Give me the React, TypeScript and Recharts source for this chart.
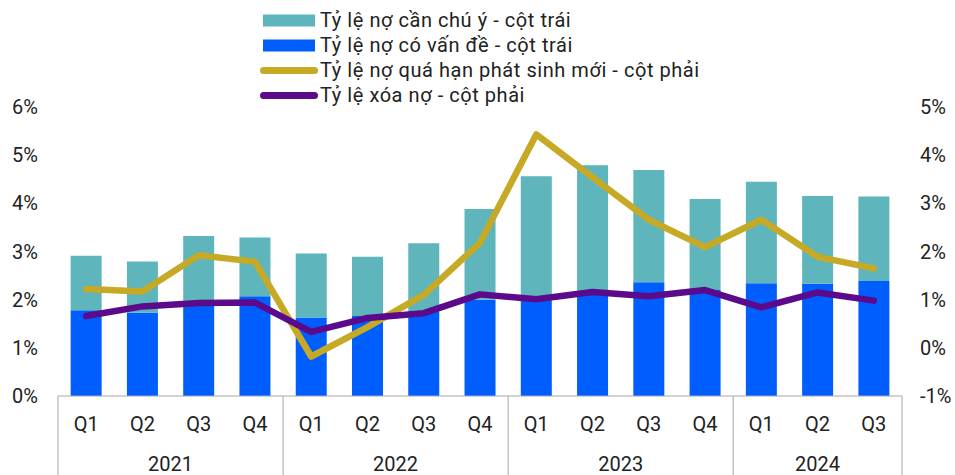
import React from 'react';
import { ComposedChart, Bar, Line, XAxis, YAxis, Legend } from 'recharts';

const quarters = ['Q1', 'Q2', 'Q3', 'Q4', 'Q1', 'Q2', 'Q3', 'Q4', 'Q1', 'Q2', 'Q3', 'Q4', 'Q1', 'Q2', 'Q3'];
const years = ['2021', '2021', '2021', '2021', '2022', '2022', '2022', '2022', '2023', '2023', '2023', '2023', '2024', '2024', '2024'];
// Left axis (%)
const problemDebt = [1.78, 1.73, 1.98, 2.07, 1.63, 1.66, 1.76, 2.0, 2.06, 2.13, 2.36, 2.2, 2.34, 2.33, 2.39];
const attentionDebt = [1.13, 1.06, 1.34, 1.22, 1.33, 1.23, 1.41, 1.88, 2.5, 2.66, 2.33, 1.89, 2.11, 1.82, 1.75];
// Right axis (%)
const newOverdue = [1.22, 1.17, 1.92, 1.79, -0.18, 0.43, 1.1, 2.18, 4.43, 3.54, 2.66, 2.09, 2.66, 1.89, 1.65];
const writeOff = [0.66, 0.86, 0.93, 0.94, 0.33, 0.62, 0.72, 1.11, 1.01, 1.16, 1.07, 1.2, 0.84, 1.15, 0.98];

const leftTicks = [0, 1, 2, 3, 4, 5, 6];
const rightTicks = [-1, 0, 1, 2, 3, 4, 5];

const names = {
  attention: 'Tỷ lệ nợ cần chú ý - cột trái',
  problem: 'Tỷ lệ nợ có vấn đề - cột trái',
  overdue: 'Tỷ lệ nợ quá hạn phát sinh mới - cột phải',
  writeoff: 'Tỷ lệ xóa nợ - cột phải',
};

const COLORS = {
  attention: '#5EB5BC',
  problem: '#005EFF',
  overdue: '#C6A924',
  writeoff: '#5B0A8C',
};

const W = 955;
const H = 475;
const LEFT_W = 58;
const RIGHT_W = 53;
const X_H = 79;
const TOP = 107;
const FONT = 'Roboto, "Noto Sans", sans-serif';
const TEXT = '#222222';
const AXIS = '#A6A6A6';

const data = quarters.map((q, i) => ({
  idx: i,
  q,
  year: years[i],
  problem: problemDebt[i],
  attention: attentionDebt[i],
  overdue: newOverdue[i],
  writeoff: writeOff[i],
}));

const BAND = (W - LEFT_W - RIGHT_W) / data.length;

const XTick = (props: any) => {
  const { x, y, payload } = props;
  const i = payload.index;
  const yr = years[i];
  const first = i === 0 || years[i - 1] !== yr;
  const last = i === data.length - 1;
  const groupCount = years.filter((v) => v === yr).length;
  const left = x - BAND / 2;
  return (
    <g>
      <text x={x} y={y + 35} textAnchor="middle" fontSize={20} fontFamily={FONT} fill={TEXT}>
        {quarters[i]}
      </text>
      {first && <line x1={left} x2={left} y1={y} y2={H} stroke={AXIS} strokeWidth={1} />}
      {first && (
        <text x={left + (groupCount * BAND) / 2} y={y + 74.5} textAnchor="middle" fontSize={20} fontFamily={FONT} fill={TEXT}>
          {yr}
        </text>
      )}
      {last && <line x1={x + BAND / 2} x2={x + BAND / 2} y1={y} y2={H} stroke={AXIS} strokeWidth={1} />}
    </g>
  );
};

const legendItems = [
  { key: 'attention', kind: 'rect' },
  { key: 'problem', kind: 'rect' },
  { key: 'overdue', kind: 'line' },
  { key: 'writeoff', kind: 'line' },
];

const LegendContent = () => (
  <div style={{ fontFamily: FONT, fontSize: 20, letterSpacing: '0.55px', color: TEXT }}>
    {legendItems.map((it) => {
      const color = (COLORS as any)[it.key];
      return (
        <div key={it.key} style={{ display: 'flex', alignItems: 'center', height: 25, whiteSpace: 'nowrap' }}>
          <svg width={60} height={25} style={{ display: 'block', flex: 'none' }}>
            {it.kind === 'rect' ? (
              <rect x={3} y={6.5} width={52} height={12} fill={color} />
            ) : (
              <line x1={3.5} x2={54.5} y1={12.5} y2={12.5} stroke={color} strokeWidth={7} strokeLinecap="round" />
            )}
          </svg>
          <span>{(names as any)[it.key]}</span>
        </div>
      );
    })}
  </div>
);

export default function App() {
  return (
    <div style={{ position: 'absolute', left: 0, top: 0, width: W, height: H, background: '#fff' }}>
      <ComposedChart
        width={W}
        height={H}
        data={data}
        margin={{ top: TOP, right: 0, bottom: 0, left: 0 }}
        barCategoryGap="22.5%"
      >
        <XAxis
          dataKey="idx"
          xAxisId="x"
          type="category"
          interval={0}
          height={X_H}
          tickLine={false}
          tickSize={0}
          tickMargin={0}
          axisLine={{ stroke: AXIS, strokeWidth: 1 }}
          tick={<XTick />}
        />
        <YAxis
          yAxisId="left"
          orientation="left"
          width={LEFT_W}
          domain={[0, 6]}
          ticks={leftTicks}
          allowDataOverflow
          axisLine={false}
          tickLine={false}
          tickSize={0}
          tickMargin={20}
          tickFormatter={(v: number) => `${v}%`}
          tick={{ fontSize: 20, fontFamily: FONT, fill: TEXT }}
        />
        <YAxis
          yAxisId="right"
          orientation="right"
          width={RIGHT_W}
          domain={[-1, 5]}
          ticks={rightTicks}
          allowDataOverflow
          axisLine={false}
          tickLine={false}
          tickSize={0}
          tickMargin={18}
          tickFormatter={(v: number) => `${v}%`}
          tick={{ fontSize: 20, fontFamily: FONT, fill: TEXT, textAnchor: 'start' }}
        />
        <Legend
          layout="vertical"
          align="center"
          verticalAlign="middle"
          wrapperStyle={{ top: 7.5, left: 260, width: 'auto' }}
          content={<LegendContent />}
        />
        <Bar xAxisId="x" yAxisId="left" dataKey="problem" name={names.problem} stackId="s" fill={COLORS.problem} isAnimationActive={false} />
        <Bar xAxisId="x" yAxisId="left" dataKey="attention" name={names.attention} stackId="s" fill={COLORS.attention} isAnimationActive={false} />
        <Line
          xAxisId="x"
          yAxisId="right"
          dataKey="overdue"
          name={names.overdue}
          stroke={COLORS.overdue}
          strokeWidth={6.5}
          strokeLinecap="round"
          strokeLinejoin="round"
          dot={false}
          activeDot={false}
          isAnimationActive={false}
        />
        <Line
          xAxisId="x"
          yAxisId="right"
          dataKey="writeoff"
          name={names.writeoff}
          stroke={COLORS.writeoff}
          strokeWidth={6.5}
          strokeLinecap="round"
          strokeLinejoin="round"
          dot={false}
          activeDot={false}
          isAnimationActive={false}
        />
      </ComposedChart>
    </div>
  );
}
